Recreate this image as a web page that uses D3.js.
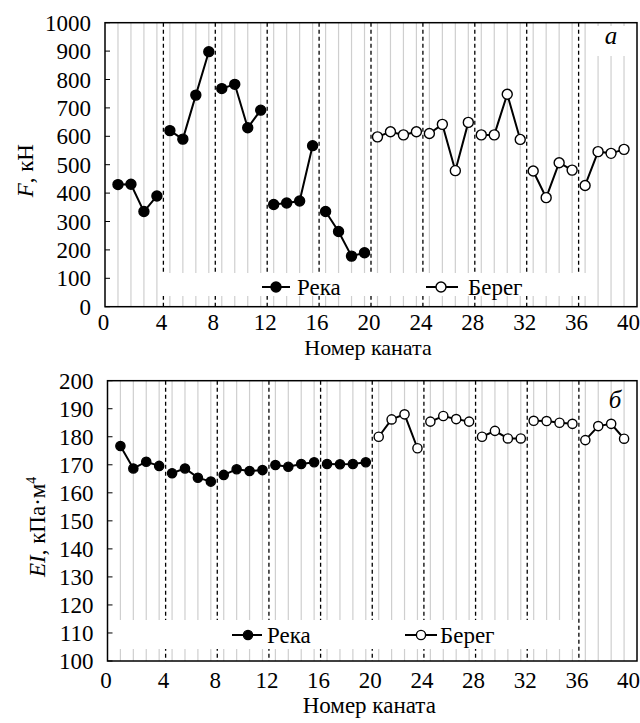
<!DOCTYPE html>
<html><head><meta charset="utf-8">
<script src="https://cdn.jsdelivr.net/npm/d3@7"></script>
<style>
body{margin:0;background:#fff}
</style>
</head><body>
<svg id="c" width="640" height="723" font-family="'Liberation Serif', serif"></svg>
<script>
// ---- data ----
const riverCables = [1,2,3,4,5,6,7,8,9,10,11,12,13,14,15,16,17,18,19,20];
const shoreCables = [21,22,23,24,25,26,27,28,29,30,31,32,33,34,35,36,37,38,39,40];
const forceRiver = [430,431,335,390, 620,590,745,898, 768,783,630,692, 360,365,372,567, 335,265,178,190];
const forceShore = [598,616,605,616, 610,642,479,649, 605,605,748,589, 478,384,507,481, 427,546,540,554];
const eiRiver = [176.7,168.7,171.1,169.6, 167.0,168.7,165.4,164.0, 166.4,168.4,167.8,168.1, 169.9,169.3,170.3,170.9, 170.3,170.2,170.3,170.9];
const eiShore = [180.0,186.2,188.0,175.9, 185.4,187.4,186.3,185.4, 180.0,182.1,179.4,179.4, 185.7,185.6,185.0,184.6, 178.8,183.8,184.6,179.3];
const xTicks = [0,4,8,12,16,20,24,28,32,36,40];
const dashedAt = [4,8,12,16,20,24,28,32,36];
const forceTicks = [0,100,200,300,400,500,600,700,800,900,1000];
const eiTicks = [100,110,120,130,140,150,160,170,180,190,200];
const groupSize = 4;
const legendNames = ["Река","Берег"];

const FONT = "Liberation Serif";
const svg = d3.select("#c");
svg.append("rect").attr("width",640).attr("height",723).attr("fill","#fff");

function txt(g){ return g.append("text").attr("font-family",FONT).attr("fill","#000"); }

function panel(o){
  const x = d3.scaleLinear().domain([-0.5,40.5]).range([o.left,o.right]);
  const y = d3.scaleLinear().domain(o.yDomain).range([o.bottom,o.top]);
  const g = svg.append("g");
  const allCables = riverCables.concat(shoreCables);
  g.selectAll(".grid").data(allCables).enter().append("line")
    .attr("x1",d=>x(d-0.5)).attr("x2",d=>x(d-0.5))
    .attr("y1",o.top).attr("y2",o.bottom)
    .attr("stroke","#cfcfcf").attr("stroke-width",1.2);
  g.selectAll(".dash").data(dashedAt).enter().append("line")
    .attr("x1",d=>x(d)).attr("x2",d=>x(d))
    .attr("y1",o.top).attr("y2",o.bottom)
    .attr("stroke","#000").attr("stroke-width",1.3).attr("stroke-dasharray","4,3");
  o.masks.forEach(m=>{
    g.append("rect").attr("x",m[0]).attr("y",m[1]).attr("width",m[2]-m[0]).attr("height",m[3]-m[1]).attr("fill","#fff");
  });
  g.append("rect").attr("x",o.left).attr("y",o.top).attr("width",o.right-o.left).attr("height",o.bottom-o.top)
    .attr("fill","none").attr("stroke","#000").attr("stroke-width",1.5);
  g.selectAll(".yt").data(o.yTicks).enter().append("line")
    .attr("x1",o.left).attr("x2",o.left+5).attr("y1",d=>y(d)).attr("y2",d=>y(d))
    .attr("stroke","#000").attr("stroke-width",1);
  o.yTicks.forEach(d=>{
    txt(g).attr("x",o.left-14).attr("y",y(d)).attr("dy","0.35em")
      .attr("text-anchor","end").attr("font-size",23).text(d);
  });
  xTicks.forEach(d=>{
    txt(g).attr("x",x(d)-(d===0?8:2)).attr("y",o.xLabelY)
      .attr("text-anchor","middle").attr("font-size",23).text(d);
  });
  txt(g).attr("x",(o.left+o.right)/2-3).attr("y",o.xTitleY)
    .attr("text-anchor","middle").attr("font-size",o.xTitleSize).text("Номер каната");
  const yt = txt(g).attr("transform",`translate(${o.yTitleX},${(o.top+o.bottom)/2+6}) rotate(-90)`)
    .attr("text-anchor","middle").attr("font-size",23);
  o.yTitle(yt);
  txt(g).attr("x",o.letter[0]).attr("y",o.letter[1]).attr("text-anchor","middle")
    .attr("font-size",25).attr("font-style","italic").text(o.letter[2]);

  const line = d3.line().x(d=>x(d.c-0.5)).y(d=>y(d.v));
  const series = [
    {cables:riverCables, vals:o.river, filled:true},
    {cables:shoreCables, vals:o.shore, filled:false}
  ];
  series.forEach(s=>{
    const pts = s.cables.map((c,i)=>({c:c,v:s.vals[i]}));
    const groups = d3.groups(pts, d=>Math.floor((d.c-1)/groupSize)).map(e=>e[1]);
    g.selectAll(null).data(groups).enter().append("path")
      .attr("d",line).attr("fill","none").attr("stroke","#000").attr("stroke-width",2);
    g.selectAll(null).data(pts).enter().append("circle")
      .attr("cx",d=>x(d.c-0.5)).attr("cy",d=>y(d.v)).attr("r",o.r)
      .attr("fill",s.filled?"#000":"#fff").attr("stroke","#000").attr("stroke-width",1.4);
  });
  o.legend.forEach((L,i)=>{
    g.append("line").attr("x1",L.x1).attr("x2",L.x2).attr("y1",o.legendY).attr("y2",o.legendY)
      .attr("stroke","#000").attr("stroke-width",2);
    g.append("circle").attr("cx",L.m).attr("cy",o.legendY).attr("r",o.r)
      .attr("fill",i===0?"#000":"#fff").attr("stroke","#000").attr("stroke-width",1.4);
    txt(g).attr("x",L.t).attr("y",o.legendY+8).attr("font-size",23).text(legendNames[i]);
  });
}

panel({
  left:105, right:637, top:22.7, bottom:306.7, yDomain:[0,1000], yTicks:forceTicks,
  river:forceRiver, shore:forceShore, r:5,
  masks:[[160,273,590,296],[589,26,634,56]],
  xLabelY:330, xTitleY:355, xTitleSize:22, yTitleX:33,
  yTitle:t=>{t.append("tspan").attr("font-style","italic").text("F");t.append("tspan").text(", кН");},
  letter:[611,44,"a"],
  legendY:287,
  legend:[{x1:262,x2:290,m:276,t:297},{x1:426,x2:458,m:441,t:468}]
});
panel({
  left:107.5, right:637, top:380.7, bottom:661, yDomain:[100,200], yTicks:eiTicks,
  river:eiRiver, shore:eiShore, r:4.6,
  masks:[[112,620,575,649]],
  xLabelY:688, xTitleY:713, xTitleSize:23, yTitleX:45,
  yTitle:t=>{t.append("tspan").attr("font-style","italic").text("EI");t.append("tspan").text(", кПа·м");
    t.append("tspan").attr("font-size",14).attr("dy",-9).text("4");},
  letter:[615,408,"б"],
  legendY:635,
  legend:[{x1:232,x2:262,m:248,t:267},{x1:405,x2:437,m:421,t:440}]
});
</script>
</body></html>
